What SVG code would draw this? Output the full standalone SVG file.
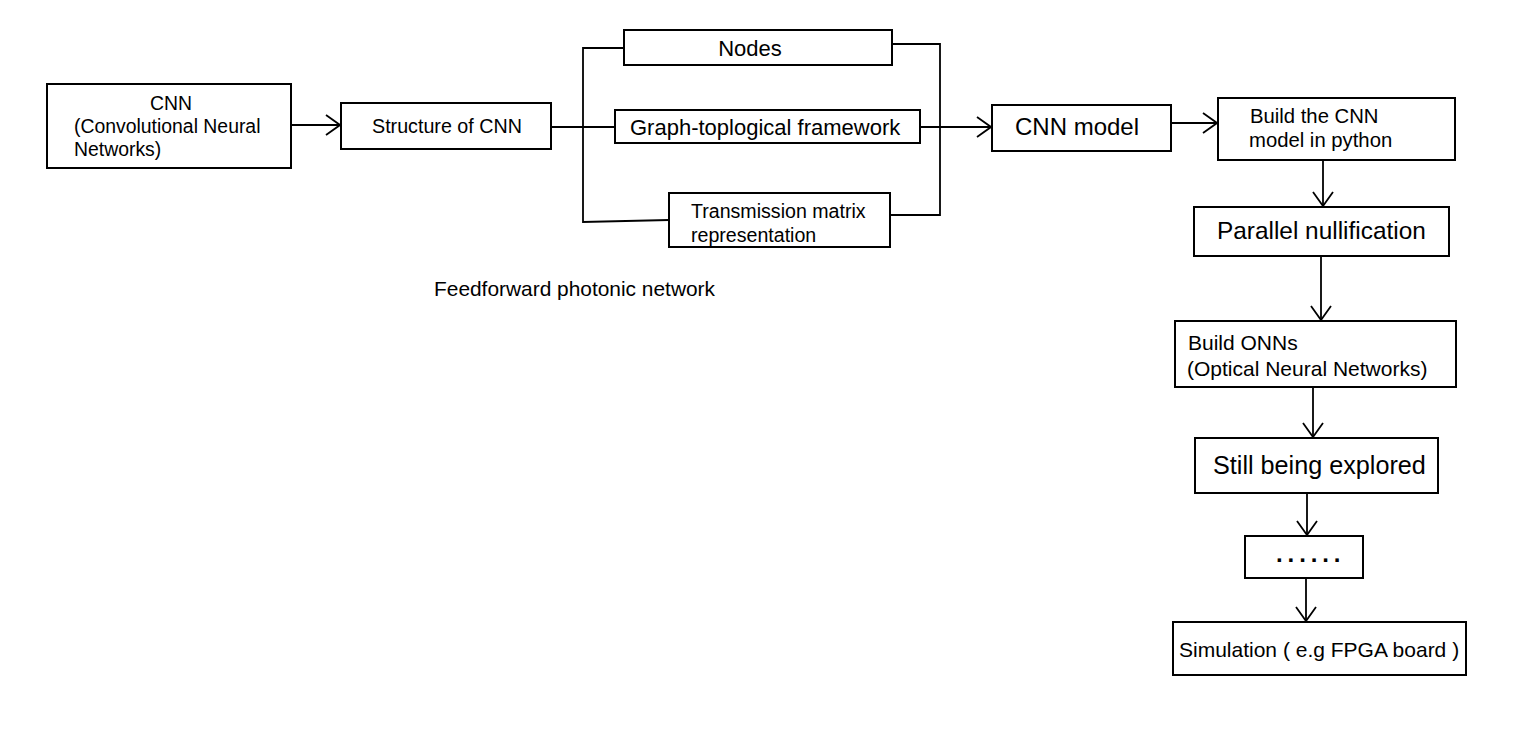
<svg xmlns="http://www.w3.org/2000/svg" width="1529" height="736" viewBox="0 0 1529 736">
<style>
.box{fill:#fff;stroke:#000;stroke-width:2}
.t{font-family:"Liberation Sans",Arial,sans-serif;fill:#000}
.ln{fill:none;stroke:#000;stroke-width:1.8}
</style>
<defs>
<marker id="arr" viewBox="0 0 16 22" refX="15" refY="11" markerWidth="16" markerHeight="22" orient="auto" markerUnits="userSpaceOnUse">
<path d="M1,1 L15,11 L1,21" fill="none" stroke="#000" stroke-width="1.8"/>
</marker>
</defs>
<rect width="1529" height="736" fill="#fff"/>
<g id="connectors">
<line class="ln" x1="291" y1="125" x2="340" y2="125" marker-end="url(#arr)"/>
<line class="ln" x1="551" y1="127" x2="615" y2="127"/>
<polyline class="ln" points="624,48 583,48 583,222 669,220"/>
<polyline class="ln" points="892,44 940,44 940,215 890,215"/>
<line class="ln" x1="920" y1="127" x2="991" y2="127" marker-end="url(#arr)"/>
<line class="ln" x1="1171" y1="123" x2="1217" y2="123" marker-end="url(#arr)"/>
<line class="ln" x1="1323" y1="160" x2="1323" y2="206" marker-end="url(#arr)"/>
<line class="ln" x1="1321" y1="256" x2="1321" y2="320" marker-end="url(#arr)"/>
<line class="ln" x1="1313" y1="387" x2="1313" y2="437" marker-end="url(#arr)"/>
<line class="ln" x1="1307" y1="493" x2="1307" y2="535" marker-end="url(#arr)"/>
<line class="ln" x1="1306" y1="578" x2="1306" y2="621" marker-end="url(#arr)"/>
</g>
<g id="cnn">
<rect class="box" x="47" y="84" width="244" height="84"/>
<text class="t" x="171" y="110" font-size="19.4" text-anchor="middle">CNN</text>
<text class="t" x="74" y="133" font-size="19.4">(Convolutional Neural</text>
<text class="t" x="74" y="156" font-size="19.4">Networks)</text>
</g>
<g id="structure">
<rect class="box" x="341" y="103" width="210" height="46"/>
<text class="t" x="372" y="133" font-size="19.7">Structure of CNN</text>
</g>
<g id="nodes">
<rect class="box" x="624" y="30" width="268" height="35"/>
<text class="t" x="750" y="56" font-size="22" text-anchor="middle">Nodes</text>
</g>
<g id="graph">
<rect class="box" x="615" y="110" width="305" height="33"/>
<text class="t" x="630" y="135" font-size="22">Graph-toplogical framework</text>
</g>
<g id="transmission">
<rect class="box" x="669" y="193" width="221" height="54"/>
<text class="t" x="691" y="218" font-size="19.6">Transmission matrix</text>
<text class="t" x="691" y="242" font-size="19.6">representation</text>
</g>
<g id="feedforward">
<text class="t" x="434" y="296" font-size="20.9">Feedforward photonic network</text>
</g>
<g id="cnnmodel">
<rect class="box" x="992" y="105" width="179" height="46"/>
<text class="t" x="1015" y="135" font-size="24">CNN model</text>
</g>
<g id="python">
<rect class="box" x="1218" y="98" width="237" height="62"/>
<text class="t" x="1250" y="123" font-size="20.3">Build the CNN</text>
<text class="t" x="1249" y="147" font-size="20.3">model in python</text>
</g>
<g id="parallel">
<rect class="box" x="1194" y="207" width="255" height="49"/>
<text class="t" x="1217" y="239" font-size="24.4">Parallel nullification</text>
</g>
<g id="onns">
<rect class="box" x="1175" y="321" width="281" height="66"/>
<text class="t" x="1188" y="350" font-size="21">Build ONNs</text>
<text class="t" x="1187" y="376" font-size="21">(Optical Neural Networks)</text>
</g>
<g id="still">
<rect class="box" x="1195" y="438" width="243" height="55"/>
<text class="t" x="1213" y="474" font-size="25.2">Still being explored</text>
</g>
<g id="dots">
<rect class="box" x="1245" y="536" width="118" height="42"/>
<text class="t" x="1276" y="562" font-size="24" font-weight="bold" letter-spacing="4.9">......</text>
</g>
<g id="simulation">
<rect class="box" x="1173" y="622" width="293" height="53"/>
<text class="t" x="1179" y="657" font-size="21">Simulation ( e.g FPGA board )</text>
</g>
</svg>
